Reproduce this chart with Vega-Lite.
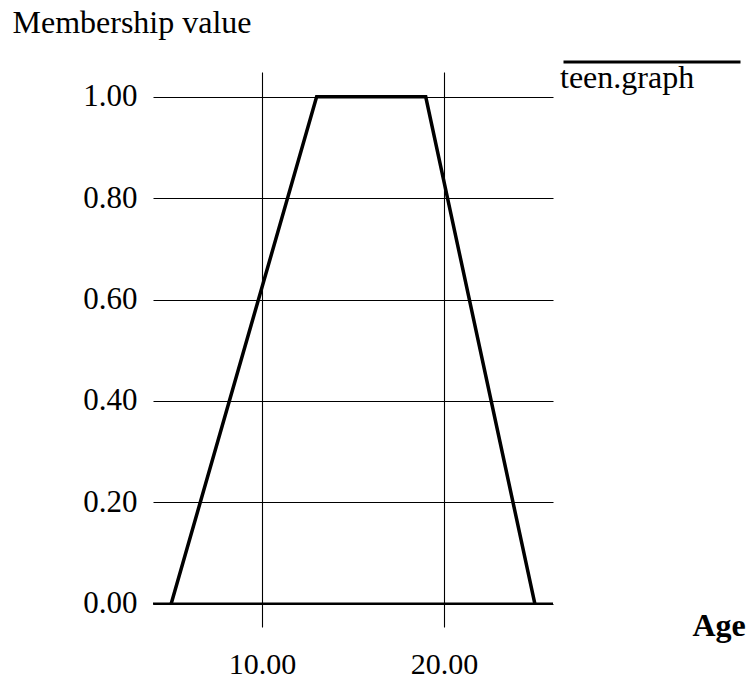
{
  "$schema": "https://vega.github.io/schema/vega-lite/v6.json",
  "width": 400,
  "height": 555,
  "autosize": {"type": "none"},
  "padding": {"left": 153, "top": 72, "right": 195, "bottom": 57},
  "background": "white",
  "config": {"view": {"stroke": null}, "font": "Liberation Serif"},
  "data": {"values": [
    {"age": 5, "m": 0, "series": "teen.graph"},
    {"age": 13, "m": 1, "series": "teen.graph"},
    {"age": 19, "m": 1, "series": "teen.graph"},
    {"age": 25, "m": 0, "series": "teen.graph"}
  ]},
  "encoding": {
    "y": {
      "field": "m", "type": "quantitative",
      "scale": {"domain": [-0.046, 1.049], "nice": false, "zero": false},
      "axis": {
        "values": [0, 0.2, 0.4, 0.6, 0.8, 1], "format": ".2f",
        "grid": true, "gridColor": "black", "gridWidth": 1.1, "gridOpacity": 1,
        "domain": false, "ticks": false, "tickSize": 0, "labelPadding": 16,
        "labelFontSize": 31, "labelColor": "black", "labelFont": "Liberation Serif",
        "title": "Membership value", "titleAngle": 0, "titleX": -141, "titleY": -40,
        "titleAlign": "left", "titleBaseline": "alphabetic", "titleFontSize": 32,
        "titleFontWeight": "normal", "titleColor": "black", "titleFont": "Liberation Serif"
      }
    }
  },
  "layer": [
    {
      "data": {"values": [{"m": 0}]},
      "mark": {"type": "rule", "color": "black", "strokeWidth": 2.2}
    },
    {
      "mark": {"type": "line", "strokeWidth": 3.5, "strokeJoin": "miter"},
      "encoding": {
        "x": {
          "field": "age", "type": "quantitative",
          "scale": {"domain": [4, 26], "nice": false, "zero": false},
          "axis": {
            "values": [10, 20], "format": ".2f",
            "grid": true, "gridColor": "black", "gridWidth": 1.1, "gridOpacity": 1,
            "domain": false, "ticks": false, "tickSize": 0, "labelPadding": 46,
            "labelBaseline": "alphabetic",
            "labelFontSize": 30, "labelColor": "black", "labelFont": "Liberation Serif",
            "title": "Age", "titleX": 539, "titleY": 8, "titleAlign": "left",
            "titleBaseline": "alphabetic", "titleFontSize": 32, "titleFontWeight": "bold",
            "titleColor": "black", "titleFont": "Liberation Serif"
          }
        },
        "color": {
          "field": "series", "type": "nominal",
          "scale": {"range": ["black"]},
          "legend": {
            "title": null, "orient": "none", "legendX": 409, "legendY": -100,
            "padding": 0, "symbolType": "stroke", "symbolSize": 31329,
            "symbolStrokeWidth": 3, "labelFontSize": 32, "labelColor": "black",
            "labelFont": "Liberation Serif", "labelOffset": -182,
            "labelBaseline": "alphabetic", "labelLimit": 0,
            "encode": {"labels": {"update": {"dy": {"value": 26}}}}
          }
        }
      }
    }
  ]
}
